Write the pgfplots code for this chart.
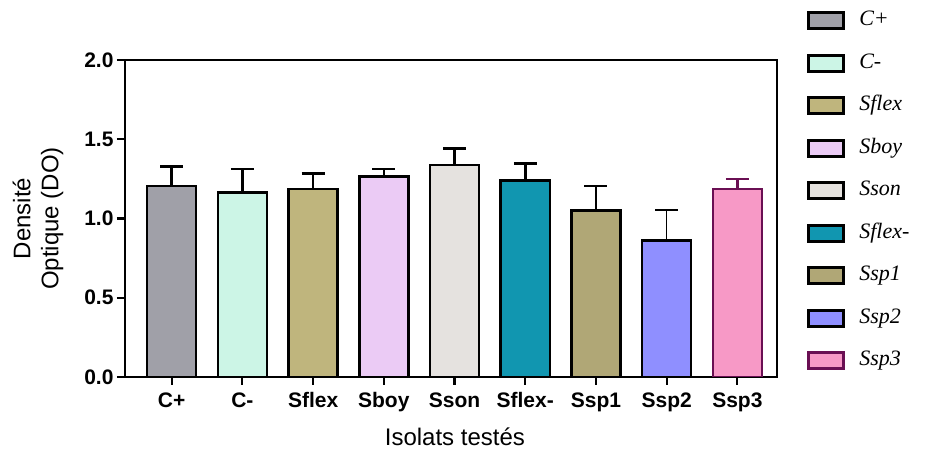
\documentclass[border=0pt]{standalone}
\usepackage{pgfplots}
\pgfplotsset{compat=1.18}
\usepackage{fontspec}
\setmainfont{Liberation Serif}
\setsansfont{Liberation Sans}
\definecolor{cCp}{HTML}{A0A0A8}
\definecolor{cCm}{HTML}{CCF5E6}
\definecolor{cSflex}{HTML}{BFB57D}
\definecolor{cSboy}{HTML}{EBCBF5}
\definecolor{cSson}{HTML}{E5E2DF}
\definecolor{cSflexm}{HTML}{1196B0}
\definecolor{cSspa}{HTML}{B0A776}
\definecolor{cSspb}{HTML}{8F8FFF}
\definecolor{cSspc}{HTML}{F799C6}
\definecolor{cSspcE}{HTML}{6A0F53}
\begin{document}
\begin{tikzpicture}
\useasboundingbox (-125pt,-77pt) rectangle (802pt,377pt);
\begin{axis}[
  at={(0,0)}, anchor=south west,
  scale only axis, width=652pt, height=317pt,
  xmin=-0.66, xmax=8.56, ymin=0, ymax=2,
  ybar, bar width=49pt, bar shift=0pt,
  axis line style={line width=2.2pt},
  tick pos=left, tick align=outside, major tick length=8pt,
  tick style={line width=2.2pt, black},
  ytick={0,0.5,1,1.5,2},
  yticklabel style={/pgf/number format/fixed, /pgf/number format/fixed zerofill, /pgf/number format/precision=1},
  /pgf/number format/assume math mode=true,
  ticklabel style={font=\sffamily\bfseries\fontsize{21}{21}\selectfont},
  xticklabel style={yshift=-4pt},
  xtick={0,...,8},
  xticklabels={C+,C-,Sflex,Sboy,Sson,Sflex-,Ssp1,Ssp2,Ssp3},
  ylabel={Densité\\Optique (DO)},
  ylabel style={at={(axis description cs:-0.1334,0.5)}, anchor=center, align=center, font=\sffamily\fontsize{24}{28}\selectfont},
  xlabel={Isolats testés},
  xlabel style={at={(axis description cs:0.506,-0.19)}, anchor=center, font=\sffamily\fontsize{24}{24}\selectfont},
  error bars/y dir=plus, error bars/y explicit,
  error bars/error bar style={line width=2.5pt},
  error bars/error mark options={rotate=90, mark size=11.5pt, line width=2.5pt},
  legend image code/.code={\draw[#1, line width=3pt] (0pt,-8pt) rectangle (35pt,8pt); \path (50pt,0pt);},
  legend style={at={(1.045,1.155)}, anchor=north west, draw=none, fill=none, inner sep=0pt,
    font=\itshape\fontsize{22}{22}\selectfont, row sep=23.5pt,
    nodes={inner sep=0pt, text height=14pt, text depth=4pt}},
  legend cell align=left,
]
\addplot[fill=cCp, draw=black, line width=2.5pt] coordinates {(0,1.205) +- (0,0.122)};
\addlegendentry{C+}
\addplot[fill=cCm, draw=black, line width=2.5pt] coordinates {(1,1.163) +- (0,0.149)};
\addlegendentry{C-}
\addplot[fill=cSflex, draw=black, line width=2.5pt] coordinates {(2,1.186) +- (0,0.099)};
\addlegendentry{Sflex}
\addplot[fill=cSboy, draw=black, line width=2.5pt] coordinates {(3,1.264) +- (0,0.048)};
\addlegendentry{Sboy}
\addplot[fill=cSson, draw=black, line width=2.5pt] coordinates {(4,1.338) +- (0,0.105)};
\addlegendentry{Sson}
\addplot[fill=cSflexm, draw=black, line width=2.5pt] coordinates {(5,1.239) +- (0,0.109)};
\addlegendentry{Sflex-}
\addplot[fill=cSspa, draw=black, line width=2.5pt] coordinates {(6,1.049) +- (0,0.156)};
\addlegendentry{Ssp1}
\addplot[fill=cSspb, draw=black, line width=2.5pt, error bars/error bar style={line width=1.3pt}, error bars/error mark options={rotate=90, mark size=11.5pt, line width=2.5pt}] coordinates {(7,0.86) +- (0,0.194)};
\addlegendentry{Ssp2}
\addplot[fill=cSspc, draw=cSspcE, line width=2.5pt, error bars/error bar style={line width=2.5pt, cSspcE}, error bars/error mark options={rotate=90, mark size=11.5pt, line width=2.5pt, cSspcE}] coordinates {(8,1.186) +- (0,0.063)};
\addlegendentry{Ssp3}
\end{axis}
\end{tikzpicture}
\end{document}
